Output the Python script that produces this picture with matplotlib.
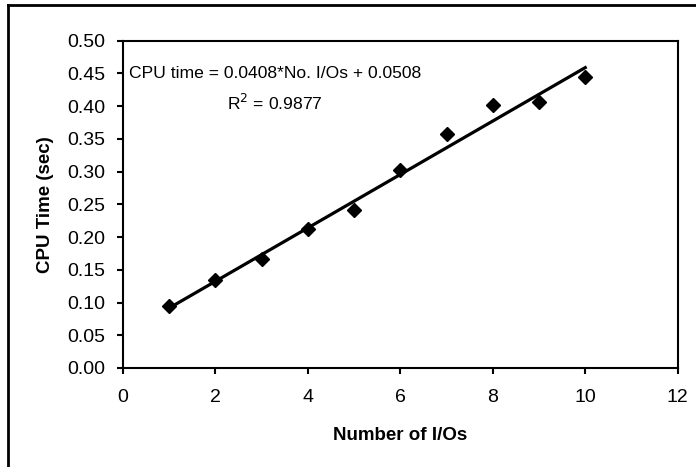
import numpy as np
import matplotlib
matplotlib.use("Agg")
import matplotlib.pyplot as plt
from matplotlib.lines import Line2D

plt.rcParams['font.family'] = ['Liberation Sans', 'DejaVu Sans']

# === DATA ===
n_ios = [1, 2, 3, 4, 5, 6, 7, 8, 9, 10]
cpu_time = [0.094, 0.135, 0.167, 0.212, 0.242, 0.303, 0.358, 0.401, 0.406, 0.445]
slope = 0.0408
intercept = 0.0508
r_squared = 0.9877

x_ticks = [0, 2, 4, 6, 8, 10, 12]
y_ticks = [0.00, 0.05, 0.10, 0.15, 0.20, 0.25, 0.30, 0.35, 0.40, 0.45, 0.50]

# === PLOT ===
fig = plt.figure(figsize=(6.96, 4.67), dpi=100)
ax = fig.add_axes([0.1767, 0.212, 0.797, 0.701])

ax.plot(n_ios, cpu_time, linestyle='none', marker='D', markersize=7.5,
        color='black', zorder=2)

# trendline
x_fit = np.array([n_ios[0], n_ios[-1]])
ax.plot(x_fit, slope * x_fit + intercept, color='black', lw=2.3, zorder=3)

ax.set_xlim(0, 12)
ax.set_ylim(0, 0.5)
ax.set_xticks(x_ticks)
ax.set_yticks(y_ticks)
ax.set_yticklabels([f"{v:.2f}" for v in y_ticks])

for sp in ax.spines.values():
    sp.set_linewidth(1.5)
ax.tick_params(axis='both', direction='out', length=4, width=1.5,
               labelsize=14)
ax.tick_params(axis='x', pad=11)
ax.tick_params(axis='y', pad=9)

ax.set_xlabel("Number of I/Os", fontsize=13.5, fontweight='bold')
ax.set_ylabel("CPU Time (sec)", fontsize=13.5, fontweight='bold')
ax.xaxis.set_label_coords(0.5, -0.205)
ax.xaxis.label.set_va('center')
ax.yaxis.set_label_coords(-0.1405, 0.5)
ax.yaxis.label.set_va('center')

# trendline equation
ax.text(3.29, 0.45, f"CPU time = {slope:.4f}*No. I/Os + {intercept:.4f}",
        fontsize=12.6, ha='center', va='center')
ax.text(3.29, 0.405, f"R$^{{2}}$ = {r_squared:.4f}", fontsize=12.6,
        ha='center', va='center')

# outer chart frame (left and top edges visible)
fig.add_artist(Line2D([0.0115, 0.0115], [0.0, 0.989], color='black', lw=2,
                      transform=fig.transFigure))
fig.add_artist(Line2D([0.0115, 1.0], [0.989, 0.989], color='black', lw=2,
                      transform=fig.transFigure))

fig.savefig("out.png", dpi=100)
